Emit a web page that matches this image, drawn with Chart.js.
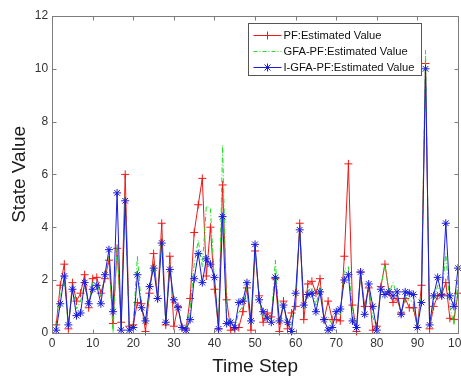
<!DOCTYPE html>
<html>
<head>
<meta charset="utf-8">
<script src="https://cdn.jsdelivr.net/npm/chart.js@4.4.1/dist/chart.umd.min.js"></script>
<style>
  html, body { margin: 0; padding: 0; background: #fff; overflow: hidden; }
  #wrap { width: 461px; height: 378px; overflow: hidden; }
</style>
</head>
<body>
<div id="wrap"><canvas id="stateChart" width="472" height="378"></canvas></div>
<script>
// Time steps 1..100 (x positions)
const steps = Array.from({ length: 100 }, (_, i) => i + 1);

// PF estimated value (red, '+')
const pfValues = [
  0.3, 1.8, 2.6, 0.15, 1.9, 1.2, 1.5, 2.2, 0.95, 2.05,
  2.1, 1.5, 2.05, 2.75, 0.35, 3.2, 0.4, 6.0, 0.25, 0.3,
  1.15, 1.1, 0.05, 1.5, 3.0, 1.3, 4.15, 0.3, 2.9, 0.25,
  1.0, 0.2, 0.15, 1.3, 3.8, 4.85, 5.85, 2.15, 4.0, 1.65,
  0.15, 5.6, 1.25, 0.1, 0.15, 0.2, 0.8, 1.7, 0.1, 3.1,
  1.4, 0.4, 0.75, 0.6, 2.05, 0.05, 1.2, 0.15, 0.75, 1.0,
  4.15, 0.5, 1.85, 1.95, 1.5, 2.05, 0.5, 1.2, 0.5, 0.5,
  0.45, 2.9, 6.4, 1.05, 0.05, 2.3, 1.0, 1.7, 0.1, 0.25,
  1.75, 2.6, 1.55, 1.15, 1.3, 0.75, 1.3, 0.95, 0.95, 0.2,
  1.8, 10.2, 0.15, 1.0, 1.4, 1.45, 1.9, 0.55, 0.5, 1.5
];

// GFA-PF estimated value (green, dash-dot)
const gfaValues = [
  0.2, 1.5, 2.0, 0.2, 1.8, 0.9, 1.2, 1.8, 1.0, 1.9,
  1.9, 1.4, 2.1, 2.9, 0.0, 3.3, 0.3, 5.2, 0.2, 0.3,
  2.9, 1.0, 0.3, 1.6, 2.7, 1.3, 3.7, 0.3, 2.6, 1.0,
  1.0, 0.2, 0.1, 0.9, 2.6, 3.5, 2.5, 4.8, 4.7, 1.9,
  0.1, 7.1, 0.6, 0.3, 0.2, 0.8, 1.0, 1.8, 0.3, 3.2,
  1.3, 0.6, 0.6, 0.5, 2.75, 0.3, 1.1, 0.3, 0.3, 1.3,
  4.0, 0.9, 1.6, 1.7, 1.0, 1.8, 0.5, 0.6, 0.3, 0.7,
  0.7, 2.4, 2.5, 0.8, 0.1, 2.3, 0.8, 1.8, 0.6, 0.2,
  1.7, 2.6, 1.5, 1.9, 1.4, 0.7, 1.4, 1.2, 1.2, 0.2,
  1.5, 10.7, 0.2, 1.2, 1.8, 1.4, 3.0, 1.0, 0.3, 2.0
];

// I-GFA-PF estimated value (blue, '*')
const igfaValues = [
  0.1, 1.1, 2.15, 0.3, 1.65, 0.65, 0.75, 1.9, 1.1, 1.65,
  1.8, 1.1, 2.2, 3.15, 0.8, 5.3, 0.1, 5.0, 0.1, 0.2,
  2.2, 0.95, 0.45, 1.75, 2.45, 1.3, 3.4, 0.4, 2.4, 1.25,
  0.95, 0.2, 0.1, 0.5, 2.05, 3.0, 1.9, 2.8, 2.6, 2.1,
  0.15, 4.4, 0.35, 0.4, 0.2, 1.15, 1.2, 1.9, 0.45, 3.35,
  1.25, 0.8, 0.55, 0.4, 2.1, 0.45, 1.05, 0.4, 0.05, 1.5,
  3.9, 1.05, 1.45, 1.5, 0.8, 1.55, 0.5, 0.1, 0.2, 0.8,
  0.9, 2.0, 2.2, 0.45, 0.2, 2.3, 0.7, 1.85, 1.0, 0.1,
  1.65, 1.45, 1.55, 1.4, 1.55, 0.7, 1.55, 1.5, 1.45, 0.2,
  1.15, 10.0, 0.3, 1.4, 2.1, 1.4, 4.15, 1.4, 1.0, 2.45
];

const xTicks = [0, 10, 20, 30, 40, 50, 60, 70, 80, 90, 100];
const yTicks = [0, 2, 4, 6, 8, 10, 12];
const seriesNames = ['PF:Estimated Value', 'GFA-PF:Estimated Value', 'I-GFA-PF:Estimated Value'];

const RED = '#f01818';
const GREEN = '#22dd22';
const BLUE = '#1a1ae0';
const FONT = '"Liberation Sans", Arial, sans-serif';

function toPoints(values) {
    return values.map((v, i) => ({ x: steps[i], y: v }));
}

// MATLAB-like box with inward ticks + legend box inside the axes
const axesFrame = {
    id: 'axesFrame',
    afterDraw(chart) {
        const c = chart.ctx;
        const a = chart.chartArea;
        const xs = chart.scales.x, ys = chart.scales.y;
        c.save();
        c.strokeStyle = '#7d7d7d';
        c.lineWidth = 1;
        const L = Math.round(a.left) + 0.5, R = Math.round(a.right) + 0.5;
        const T = Math.round(a.top) + 0.5, B = Math.round(a.bottom) + 0.5;
        c.strokeRect(L, T, R - L, B - T);
        c.beginPath();
        xTicks.forEach(v => {
            const px = Math.round(xs.getPixelForValue(v)) + 0.5;
            c.moveTo(px, B); c.lineTo(px, B - 4);
            c.moveTo(px, T); c.lineTo(px, T + 4);
        });
        yTicks.forEach(v => {
            const py = Math.round(ys.getPixelForValue(v)) + 0.5;
            c.moveTo(L, py); c.lineTo(L + 4, py);
            c.moveTo(R, py); c.lineTo(R - 4, py);
        });
        c.stroke();

        // legend
        const lx = 248.5, ly = 23.5, lw = 173, lh = 52;
        c.fillStyle = '#fff';
        c.fillRect(lx, ly, lw, lh);
        c.strokeStyle = '#555';
        c.strokeRect(lx, ly, lw, lh);
        const rows = [ly + 12, ly + 28, ly + 44];
        const colors = [RED, GREEN, BLUE];
        c.font = '11.2px ' + FONT;
        c.textBaseline = 'middle';
        c.textAlign = 'left';
        for (let i = 0; i < 3; i++) {
            const ry = rows[i];
            c.strokeStyle = colors[i];
            c.lineWidth = 1;
            c.setLineDash(i === 1 ? [4, 2, 1, 2] : []);
            c.beginPath();
            c.moveTo(lx + 5, ry); c.lineTo(lx + 33, ry);
            c.stroke();
            c.setLineDash([]);
            const cx = lx + 19;
            if (i !== 1) {
                c.beginPath();
                c.moveTo(cx, ry - 4); c.lineTo(cx, ry + 4);
                c.moveTo(cx - 4, ry); c.lineTo(cx + 4, ry);
                if (i === 2) {
                    c.moveTo(cx - 3, ry - 3); c.lineTo(cx + 3, ry + 3);
                    c.moveTo(cx - 3, ry + 3); c.lineTo(cx + 3, ry - 3);
                }
                c.stroke();
            }
            c.fillStyle = '#111';
            c.fillText(seriesNames[i], lx + 35, ry + 0.5);
        }
        c.restore();
    }
};

const canvasEl = document.getElementById('stateChart');
new Chart(canvasEl, {
    type: 'line',
    data: {
        datasets: [
            {
                label: seriesNames[0],
                data: toPoints(pfValues),
                borderColor: RED,
                backgroundColor: RED,
                borderWidth: 1,
                pointStyle: 'cross',
                pointRadius: 4,
                pointBorderWidth: 1,
                pointBorderColor: RED,
                tension: 0,
                clip: 8,
                order: 2
            },
            {
                label: seriesNames[1],
                data: toPoints(gfaValues),
                borderColor: GREEN,
                borderWidth: 1,
                borderDash: [5, 2, 1, 2],
                pointRadius: 0,
                tension: 0,
                clip: 8,
                order: 1
            },
            {
                label: seriesNames[2],
                data: toPoints(igfaValues),
                borderColor: BLUE,
                backgroundColor: BLUE,
                borderWidth: 1,
                pointStyle: 'star',
                pointRadius: 4,
                pointBorderWidth: 1,
                pointBorderColor: BLUE,
                tension: 0,
                clip: 8,
                order: 0
            }
        ]
    },
    options: {
        responsive: false,
        animation: false,
        devicePixelRatio: 1,
        layout: { padding: { left: 8, right: 0, top: 16, bottom: 0 } },
        plugins: {
            legend: { display: false },
            tooltip: { enabled: false }
        },
        scales: {
            x: {
                type: 'linear',
                min: 0,
                max: 100,
                grid: { display: false, drawTicks: false },
                border: { display: false },
                ticks: {
                    stepSize: 10,
                    padding: 4,
                    maxRotation: 0,
                    color: '#333',
                    font: { family: FONT, size: 12 }
                },
                title: {
                    display: true,
                    text: 'Time Step',
                    color: '#1a1a1a',
                    padding: { top: 0, bottom: 0 },
                    font: { family: FONT, size: 19 }
                }
            },
            y: {
                min: 0,
                max: 12,
                grid: { display: false, drawTicks: false },
                border: { display: false },
                ticks: {
                    stepSize: 2,
                    padding: 4,
                    color: '#333',
                    font: { family: FONT, size: 12 }
                },
                title: {
                    display: true,
                    text: 'State Value',
                    color: '#1a1a1a',
                    padding: { top: 0, bottom: 0 },
                    font: { family: FONT, size: 19 }
                }
            }
        }
    },
    plugins: [axesFrame]
});
</script>
</body>
</html>
